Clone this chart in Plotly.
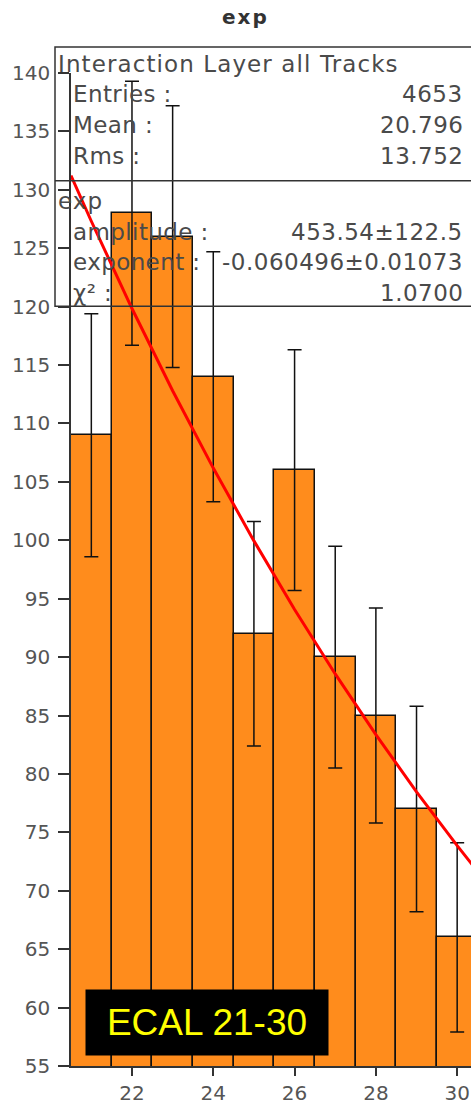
import plotly.graph_objects as go

# ---- data ----
bins = [21, 22, 23, 24, 25, 26, 27, 28, 29, 30]
counts = [109, 128, 126, 114, 92, 106, 90, 85, 77, 66]
errors = [10.4, 11.3, 11.2, 10.7, 9.6, 10.3, 9.5, 9.2, 8.8, 8.1]

fit_x = [20.5, 21, 22, 23, 24, 25, 26, 27, 28, 29, 30, 30.5]
fit_y = [131.22, 127.31, 119.84, 112.80, 106.18, 99.95, 94.08, 88.56, 83.36, 78.47, 73.86, 71.66]

x_ticks = [22, 24, 26, 28, 30]
y_ticks = [55, 60, 65, 70, 75, 80, 85, 90, 95, 100, 105, 110, 115, 120, 125, 130, 135, 140]

title_text = "exp"
stats_title = "Interaction Layer all Tracks"
stats_rows = [("Entries :", "4653"), ("Mean :", "20.796"), ("Rms :", "13.752")]
fit_title = "exp"
fit_rows = [("amplitude :", "453.54±122.5"), ("exponent :", "-0.060496±0.01073"), ("χ² :", "1.0700")]
label_text = "ECAL 21-30"

# ---- layout geometry (window pixels) ----
W, H = 471, 1105
PLOT_L, PLOT_T, PLOT_B = 71, 73, 1069
L, T, B, R = PLOT_L, PLOT_T, H - PLOT_B, 0
PW = W - L - R
PH = H - T - B
X0, X1 = 20.5, 20.5 + PW / 40.65
Y0, Y1 = 55, 140


def px(x):
    return (x - PLOT_L) / PW


def py(y):
    return (PLOT_B - y) / PH


BAR = "#FF8C1C"
TXT = "#4a4a4a"
FONT = "DejaVu Sans"

fig = go.Figure()
fig.add_trace(go.Bar(
    x=bins, y=counts, width=1,
    marker=dict(color=BAR, line=dict(color="#111111", width=1.5)),
    error_y=dict(type="data", array=errors, visible=True, color="#111111",
                 thickness=1.5, width=7),
    showlegend=False,
))
fig.add_trace(go.Scatter(
    x=fit_x, y=fit_y, mode="lines",
    line=dict(color="#FF0000", width=3), showlegend=False,
))

shapes = [
    dict(type="rect", xref="paper", yref="paper", x0=px(55), x1=px(480),
         y0=py(307), y1=py(47), line=dict(color="#333333", width=1.5),
         fillcolor="rgba(0,0,0,0)", layer="above"),
    dict(type="line", xref="paper", yref="paper", x0=px(55), x1=px(480),
         y0=py(181), y1=py(181), line=dict(color="#333333", width=1.5),
         layer="above"),
]

annotations = []


def add_text(text, x, y, anchor, size=23, color=TXT, family=FONT, bold=False, ls=None):
    t = f"<b>{text}</b>" if bold else text
    if ls:
        t = f'<span style="letter-spacing:{ls}px">{t}</span>'
    annotations.append(dict(
        text=t,
        xref="paper", yref="paper", x=px(x), y=py(y),
        xanchor=anchor, yanchor="middle", showarrow=False,
        font=dict(family=family, size=size, color=color),
    ))


add_text(title_text, 245, 17, "center", size=20, color="#333333", bold=True, ls=2)
add_text(stats_title, 56, 64, "left", ls=1.1)
for i, (k, v) in enumerate(stats_rows):
    yy = 94 + i * 31
    add_text(k, 71, yy, "left", ls=0.4)
    add_text(v, 465, yy, "right", ls=0.5)
add_text(fit_title, 56, 201, "left", ls=1.1)
for i, (k, v) in enumerate(fit_rows):
    yy = 232 + i * 31
    add_text(k, 71, yy, "left", ls=0.4)
    add_text(v, 465, yy, "right", ls=0.5)

annotations.append(dict(
    text=label_text, xref="paper", yref="paper",
    x=px(207), y=py(1025), xanchor="center", yanchor="middle",
    showarrow=False, bgcolor="#000000", width=242, height=65, borderpad=0,
    font=dict(family="Liberation Sans", size=37, color="#FFFF00"),
))

fig.update_layout(
    width=W, height=H,
    margin=dict(l=L, r=R, t=T, b=B, pad=0),
    paper_bgcolor="white", plot_bgcolor="white",
    bargap=0,
    shapes=shapes, annotations=annotations,
    xaxis=dict(range=[X0, X1], tickvals=x_ticks, ticks="outside", ticklen=8,
               tickwidth=1.5, tickcolor="#333333", showline=True,
               linecolor="#333333", linewidth=1.5, showgrid=False, zeroline=False,
               tickfont=dict(family=FONT, size=20, color="#555555")),
    yaxis=dict(range=[Y0, Y1], tickvals=y_ticks, ticks="outside", ticklen=11,
               tickwidth=1.5, tickcolor="#333333", showline=True,
               linecolor="#333333", linewidth=1.5, showgrid=False, zeroline=False,
               ticklabelstandoff=4,
               tickfont=dict(family=FONT, size=20, color="#555555")),
    yaxis2=dict(range=[Y0, Y1], overlaying="y", anchor="x", side="left",
                tickvals=y_ticks, ticks="inside", ticklen=11, tickwidth=1.5,
                tickcolor="#333333", showticklabels=False, showgrid=False,
                zeroline=False, showline=False, layer="below traces"),
)

fig.write_html(
    "out.html",
    config={"displayModeBar": False},
    post_script="document.body.style.margin='0';document.body.style.overflow='hidden';",
)
